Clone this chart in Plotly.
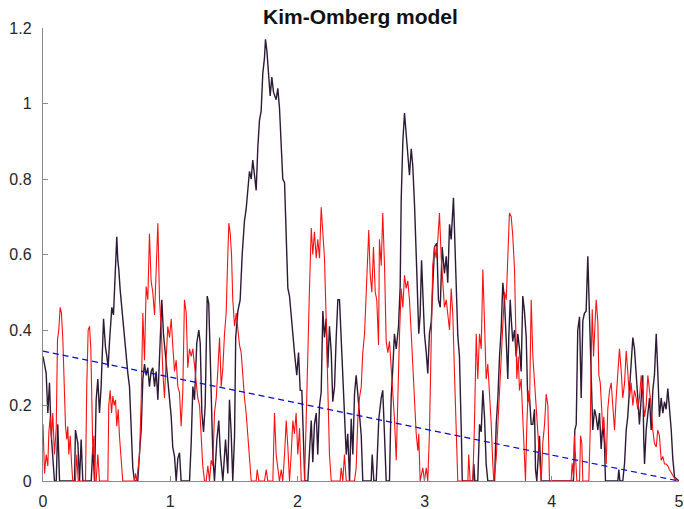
import plotly.graph_objects as go

# ---- data ----
t_dark = [0.0, 0.006, 0.025, 0.038, 0.051, 0.064, 0.077, 0.09, 0.104, 0.116, 0.13, 0.248, 0.255, 0.274, 0.287, 0.3, 0.313,
          0.379, 0.392, 0.405, 0.418, 0.431, 0.444, 0.457, 0.476, 0.491, 0.502, 0.512, 0.523, 0.541, 0.554, 0.568, 0.58,
          0.588, 0.596, 0.607, 0.622, 0.641, 0.654, 0.667, 0.68, 0.693, 0.706, 0.719, 0.745, 0.759, 0.772, 0.785, 0.798,
          0.811, 0.824, 0.837, 0.85, 0.863, 0.877, 0.89, 0.903, 0.921, 0.934, 0.947, 0.963, 0.981, 0.995, 1.008, 1.02,
          1.034, 1.047, 1.06, 1.073, 1.086, 1.152, 1.165, 1.178, 1.191, 1.209, 1.225, 1.236, 1.249, 1.262, 1.275, 1.291,
          1.303, 1.314, 1.322, 1.335, 1.348, 1.367, 1.382, 1.395, 1.414, 1.435, 1.453, 1.466, 1.479, 1.492, 1.506, 1.515,
          1.532, 1.55, 1.566, 1.584, 1.597, 1.61, 1.623, 1.637, 1.649, 1.663, 1.676, 1.689, 1.702, 1.715, 1.728, 1.741,
          1.749, 1.76, 1.775, 1.786, 1.799, 1.812, 1.833, 1.846, 1.859, 1.873, 1.885, 1.899, 1.912, 1.925, 1.938, 1.951,
          1.964, 1.977, 1.995, 2.009, 2.022, 2.035, 2.048, 2.058, 2.082, 2.095, 2.109, 2.121, 2.134, 2.148, 2.16, 2.174,
          2.187, 2.2, 2.213, 2.226, 2.239, 2.252, 2.266, 2.278, 2.292, 2.305, 2.318, 2.331, 2.344, 2.357, 2.37, 2.384,
          2.396, 2.41, 2.423, 2.436, 2.449, 2.462, 2.475, 2.488, 2.502, 2.514, 2.58, 2.588, 2.601, 2.62, 2.64, 2.659,
          2.671, 2.685, 2.698, 2.724, 2.737, 2.75, 2.763, 2.777, 2.795, 2.808, 2.816, 2.829, 2.842, 2.855, 2.868, 2.881,
          2.895, 2.907, 2.921, 2.928, 2.939, 2.954, 2.965, 2.976, 2.986, 2.999, 3.013, 3.025, 3.038, 3.052, 3.064, 3.078,
          3.096, 3.109, 3.123, 3.138, 3.156, 3.17, 3.182, 3.196, 3.209, 3.227, 3.235, 3.248, 3.261, 3.274, 3.282, 3.29,
          3.296, 3.379, 3.387, 3.395, 3.418, 3.432, 3.445, 3.458, 3.471, 3.484, 3.497, 3.55, 3.563, 3.576, 3.589, 3.602,
          3.615, 3.628, 3.642, 3.654, 3.662, 3.673, 3.683, 3.693, 3.707, 3.72, 3.733, 3.746, 3.759, 3.772, 3.785, 3.799,
          3.811, 3.825, 3.838, 3.851, 3.864, 3.872, 3.882, 3.903, 3.917, 4.17, 4.181, 4.192, 4.204, 4.218, 4.231, 4.244,
          4.257, 4.27, 4.283, 4.291, 4.302, 4.315, 4.322, 4.336, 4.349, 4.362, 4.375, 4.388, 4.401, 4.414, 4.422, 4.519,
          4.527, 4.535, 4.558, 4.572, 4.585, 4.597, 4.611, 4.624, 4.637, 4.65, 4.663, 4.676, 4.689, 4.703, 4.715, 4.723,
          4.729, 4.742, 4.755, 4.768, 4.781, 4.794, 4.807, 4.821, 4.833, 4.846, 4.86, 4.873, 4.886, 4.899, 4.912, 4.925,
          4.939, 4.951, 4.965, 5.0]
y_dark = [0.33, 0.32, 0.285, 0.18, 0.26, 0.127, 0.074, 0.0, 0.0, 0.15, 0.0, 0.0, 0.135, 0.1, 0.0, 0.11, 0.0,
          0.0, 0.09, 0.0, 0.215, 0.27, 0.18, 0.25, 0.43, 0.355, 0.33, 0.30, 0.37, 0.46, 0.44, 0.54, 0.647,
          0.585, 0.56, 0.505, 0.45, 0.37, 0.335, 0.285, 0.25, 0.16, 0.035, 0.0, 0.0, 0.075, 0.135, 0.27, 0.31,
          0.28, 0.30, 0.25, 0.29, 0.30, 0.25, 0.29, 0.215, 0.37, 0.48, 0.39, 0.33, 0.28, 0.21, 0.17, 0.09,
          0.065, 0.0, 0.06, 0.075, 0.0, 0.0, 0.1, 0.25, 0.215, 0.365, 0.40, 0.365, 0.18, 0.13, 0.2, 0.49,
          0.47, 0.34, 0.25, 0.07, 0.0, 0.11, 0.16, 0.07, 0.0, 0.11, 0.02, 0.215, 0.13, 0.0, 0.12, 0.38,
          0.45, 0.48, 0.6, 0.69, 0.72, 0.78, 0.82, 0.80, 0.85, 0.81, 0.77, 0.885, 0.956, 0.98, 1.08, 1.12,
          1.17, 1.14, 1.08, 1.02, 1.07, 1.03, 1.01, 1.04, 0.99, 0.9, 0.8, 0.79, 0.62, 0.51, 0.49, 0.43,
          0.39, 0.34, 0.28, 0.34, 0.24, 0.24, 0.09, 0.0, 0.0, 0.09, 0.16, 0.05, 0.15, 0.18, 0.07, 0.2,
          0.235, 0.45, 0.38, 0.43, 0.3, 0.41, 0.34, 0.21, 0.25, 0.38, 0.48, 0.48, 0.375, 0.27, 0.21, 0.07,
          0.125, 0.0, 0.165, 0.07, 0.23, 0.28, 0.23, 0.165, 0.12, 0.0, 0.0, 0.07, 0.0, 0.0, 0.165, 0.22,
          0.24, 0.12, 0.0, 0.0, 0.22, 0.3, 0.39, 0.35, 0.41, 0.515, 0.745, 0.90, 0.975, 0.92, 0.87, 0.81,
          0.88, 0.835, 0.73, 0.63, 0.55, 0.39, 0.44, 0.585, 0.515, 0.39, 0.34, 0.285, 0.39, 0.42, 0.515, 0.62,
          0.63, 0.48, 0.46, 0.62, 0.55, 0.595, 0.525, 0.68, 0.64, 0.75, 0.665, 0.51, 0.385, 0.33, 0.24, 0.11,
          0.0, 0.0, 0.045, 0.0, 0.0, 0.15, 0.13, 0.24, 0.17, 0.045, 0.0, 0.0, 0.15, 0.22, 0.33, 0.40,
          0.525, 0.48, 0.37, 0.27, 0.38, 0.48, 0.42, 0.37, 0.40, 0.33, 0.39, 0.35, 0.29, 0.49, 0.45, 0.38,
          0.21, 0.22, 0.15, 0.15, 0.19, 0.03, 0.0, 0.12, 0.0, 0.0, 0.135, 0.15, 0.40, 0.435, 0.22, 0.425,
          0.445, 0.45, 0.595, 0.49, 0.35, 0.24, 0.135, 0.19, 0.17, 0.135, 0.18, 0.085, 0.15, 0.1, 0.0, 0.0,
          0.03, 0.0, 0.0, 0.047, 0.135, 0.17, 0.24, 0.31, 0.38, 0.35, 0.27, 0.22, 0.15, 0.24, 0.28, 0.11,
          0.045, 0.135, 0.17, 0.22, 0.135, 0.24, 0.28, 0.39, 0.29, 0.17, 0.22, 0.18, 0.21, 0.19, 0.245, 0.2,
          0.135, 0.06, 0.01, 0.0]

t_red = [0.0, 0.012, 0.025, 0.038, 0.046, 0.057, 0.067, 0.077, 0.09, 0.104, 0.114, 0.124, 0.135, 0.145, 0.156, 0.167,
         0.177, 0.187, 0.195, 0.203, 0.214, 0.224, 0.234, 0.255, 0.266, 0.277, 0.334, 0.344, 0.355, 0.366, 0.376, 0.384,
         0.392, 0.4, 0.407, 0.418, 0.431, 0.444, 0.51, 0.517, 0.528, 0.539, 0.549, 0.56, 0.57, 0.58, 0.591, 0.601,
         0.615, 0.627, 0.719, 0.727, 0.737, 0.759, 0.772, 0.785, 0.798, 0.811, 0.824, 0.837, 0.85, 0.863, 0.877, 0.89,
         0.903, 0.916, 0.929, 0.942, 0.955, 0.968, 0.981, 0.995, 1.008, 1.02, 1.034, 1.047, 1.06, 1.073, 1.086, 1.099,
         1.112, 1.126, 1.138, 1.152, 1.165, 1.178, 1.191, 1.204, 1.217, 1.231, 1.244, 1.256, 1.27, 1.283, 1.296, 1.309,
         1.322, 1.335, 1.348, 1.362, 1.374, 1.388, 1.401, 1.414, 1.427, 1.44, 1.453, 1.461, 1.472, 1.482, 1.492, 1.506,
         1.519, 1.532, 1.545, 1.558, 1.571, 1.584, 1.597, 1.61, 1.623, 1.637, 1.676, 1.684, 1.697, 1.741, 1.755, 1.767,
         1.807, 1.82, 1.833, 1.846, 1.859, 1.873, 1.885, 1.899, 1.912, 1.925, 1.938, 1.951, 1.964, 1.977, 1.99, 2.003,
         2.017, 2.03, 2.056, 2.069, 2.082, 2.095, 2.109, 2.121, 2.134, 2.148, 2.16, 2.174, 2.187, 2.2, 2.213, 2.226,
         2.239, 2.252, 2.266, 2.336, 2.344, 2.357, 2.37, 2.384, 2.449, 2.462, 2.475, 2.488, 2.502, 2.514, 2.528, 2.541,
         2.553, 2.561, 2.572, 2.585, 2.598, 2.612, 2.624, 2.638, 2.645, 2.659, 2.671, 2.685, 2.698, 2.711, 2.724, 2.737,
         2.75, 2.763, 2.777, 2.789, 2.803, 2.816, 2.829, 2.842, 2.855, 2.868, 2.881, 2.895, 2.907, 2.921, 2.934, 2.947,
         2.954, 2.965, 2.986, 2.999, 3.013, 3.025, 3.038, 3.052, 3.064, 3.078, 3.091, 3.104, 3.117, 3.13, 3.143, 3.156,
         3.17, 3.182, 3.196, 3.209, 3.222, 3.235, 3.248, 3.261, 3.34, 3.347, 3.358, 3.379, 3.392, 3.406, 3.418, 3.432,
         3.445, 3.458, 3.471, 3.484, 3.497, 3.51, 3.524, 3.536, 3.544, 3.563, 3.576, 3.589, 3.602, 3.615, 3.628, 3.642,
         3.654, 3.667, 3.681, 3.693, 3.707, 3.715, 3.725, 3.736, 3.746, 3.759, 3.772, 3.785, 3.793, 3.804, 3.814, 3.825,
         3.838, 3.851, 3.864, 3.877, 3.89, 3.903, 3.917, 3.929, 3.943, 3.956, 3.969, 3.982, 4.152, 4.16, 4.171, 4.178,
         4.186, 4.197, 4.218, 4.226, 4.236, 4.244, 4.291, 4.302, 4.31, 4.318, 4.328, 4.338, 4.349, 4.362, 4.37, 4.381,
         4.391, 4.401, 4.409, 4.417, 4.428, 4.44, 4.454, 4.467, 4.48, 4.493, 4.506, 4.519, 4.532, 4.546, 4.558, 4.572,
         4.585, 4.597, 4.611, 4.624, 4.637, 4.65, 4.663, 4.676, 4.689, 4.703, 4.715, 4.729, 4.742, 4.755, 4.768, 4.781,
         4.794, 4.807, 4.821, 4.833, 4.846, 4.86, 4.873, 4.886, 4.899, 4.912, 4.925, 4.951, 4.978, 5.0]
y_red = [0.15, 0.02, 0.07, 0.04, 0.13, 0.17, 0.11, 0.18, 0.07, 0.14, 0.375, 0.40, 0.46, 0.445, 0.375, 0.21,
         0.145, 0.11, 0.145, 0.07, 0.12, 0.05, 0.0, 0.0, 0.07, 0.0, 0.0, 0.25, 0.40, 0.41, 0.35, 0.215,
         0.07, 0.12, 0.0, 0.0, 0.07, 0.0, 0.0, 0.2, 0.24, 0.18, 0.225, 0.2, 0.215, 0.145, 0.19, 0.12,
         0.04, 0.0, 0.0, 0.02, 0.0, 0.07, 0.215, 0.445, 0.32, 0.515, 0.48, 0.655, 0.53, 0.5, 0.44, 0.57,
         0.683, 0.48, 0.41, 0.29, 0.22, 0.32, 0.41, 0.38, 0.43, 0.36, 0.29, 0.32, 0.25, 0.235, 0.145, 0.235,
         0.48, 0.445, 0.3, 0.35, 0.33, 0.35, 0.3, 0.26, 0.22, 0.2, 0.13, 0.04, 0.0, 0.0, 0.04, 0.0,
         0.055, 0.04, 0.18, 0.22, 0.29, 0.38, 0.25, 0.3, 0.39, 0.445, 0.6, 0.683, 0.655, 0.6, 0.48, 0.41,
         0.445, 0.39, 0.36, 0.34, 0.27, 0.22, 0.18, 0.12, 0.07, 0.0, 0.0, 0.03, 0.0, 0.0, 0.03, 0.0,
         0.0, 0.18, 0.07, 0.04, 0.0, 0.03, 0.0, 0.07, 0.16, 0.09, 0.0, 0.07, 0.16, 0.125, 0.18, 0.07,
         0.14, 0.0, 0.0, 0.16, 0.38, 0.51, 0.67, 0.6, 0.66, 0.59, 0.64, 0.59, 0.725, 0.67, 0.59, 0.43,
         0.25, 0.07, 0.0, 0.0, 0.035, 0.0, 0.07, 0.0, 0.0, 0.035, 0.165, 0.22, 0.25, 0.34, 0.39, 0.5,
         0.6, 0.665, 0.55, 0.5, 0.62, 0.5, 0.48, 0.36, 0.64, 0.57, 0.71, 0.57, 0.37, 0.34, 0.37, 0.3,
         0.23, 0.165, 0.055, 0.23, 0.39, 0.51, 0.46, 0.545, 0.51, 0.53, 0.48, 0.39, 0.3, 0.22, 0.125, 0.08,
         0.125, 0.0, 0.035, 0.0, 0.035, 0.0, 0.125, 0.37, 0.57, 0.62, 0.59, 0.64, 0.71, 0.595, 0.54, 0.46,
         0.48, 0.44, 0.40, 0.51, 0.44, 0.285, 0.16, 0.0, 0.0, 0.07, 0.0, 0.0, 0.15, 0.39, 0.27, 0.39,
         0.35, 0.56, 0.42, 0.27, 0.31, 0.24, 0.15, 0.045, 0.0, 0.06, 0.15, 0.27, 0.36, 0.45, 0.5, 0.48,
         0.59, 0.71, 0.70, 0.65, 0.56, 0.39, 0.27, 0.33, 0.24, 0.27, 0.15, 0.06, 0.0, 0.15, 0.24, 0.2,
         0.48, 0.33, 0.27, 0.2, 0.13, 0.06, 0.0, 0.1, 0.15, 0.23, 0.2, 0.0, 0.0, 0.047, 0.01, 0.12,
         0.065, 0.0, 0.0, 0.12, 0.1, 0.0, 0.0, 0.135, 0.33, 0.455, 0.33, 0.42, 0.48, 0.42, 0.28, 0.26,
         0.19, 0.135, 0.17, 0.1, 0.045, 0.19, 0.24, 0.26, 0.2, 0.135, 0.22, 0.28, 0.35, 0.29, 0.22, 0.26,
         0.345, 0.29, 0.22, 0.26, 0.2, 0.24, 0.22, 0.19, 0.22, 0.28, 0.24, 0.17, 0.2, 0.28, 0.24, 0.2,
         0.135, 0.1, 0.09, 0.135, 0.12, 0.055, 0.065, 0.045, 0.045, 0.04, 0.03, 0.015, 0.0, 0.0]

t_trend = [0.0, 5.0]
y_trend = [0.344, 0.0]

title_text = "Kim-Omberg model"
x_ticks = [0, 1, 2, 3, 4, 5]
y_ticks = [0, 0.2, 0.4, 0.6, 0.8, 1.0, 1.2]
y_ticklabels = ["0", "0.2", "0.4", "0.6", "0.8", "1", "1.2"]

fig = go.Figure()
fig.add_trace(go.Scatter(x=t_dark, y=y_dark, mode="lines",
                         line=dict(color="#2d1a35", width=1.4), showlegend=False))
fig.add_trace(go.Scatter(x=t_red, y=y_red, mode="lines",
                         line=dict(color="#ff1010", width=1.1), showlegend=False))
fig.add_trace(go.Scatter(x=t_trend, y=y_trend, mode="lines",
                         line=dict(color="#0000ff", width=1.1, dash="6px,4px"), showlegend=False))

axis_font = dict(family="Liberation Sans, Arial, sans-serif", size=16, color="#262626")
fig.update_layout(
    width=684, height=509,
    margin=dict(l=43, r=5, t=28, b=28),
    paper_bgcolor="white", plot_bgcolor="white",
    title=dict(text="<b>" + title_text + "</b>", x=0.527, xanchor="center",
               y=0.968, yanchor="middle",
               font=dict(family="Liberation Sans, Arial, sans-serif", size=21, color="#111111")),
    xaxis=dict(range=[0, 5], tickvals=x_ticks, ticktext=[str(v) for v in x_ticks], automargin=False,
               showgrid=False, zeroline=False, showline=True, linecolor="#8a8a8a", linewidth=1.4,
               ticks="inside", ticklen=5, tickcolor="#8a8a8a", tickwidth=1, tickfont=axis_font,
               ticklabelstandoff=6),
    yaxis=dict(range=[0, 1.2], tickvals=y_ticks, ticktext=y_ticklabels, automargin=False,
               showgrid=False, zeroline=False, showline=True, linecolor="#8a8a8a", linewidth=1.4,
               ticks="inside", ticklen=5, tickcolor="#8a8a8a", tickwidth=1, tickfont=axis_font,
               ticklabelstandoff=7),
)
fig.write_html("out.html", config={"displayModeBar": False},
               post_script="document.body.style.margin='0px';document.body.style.overflow='hidden';")
